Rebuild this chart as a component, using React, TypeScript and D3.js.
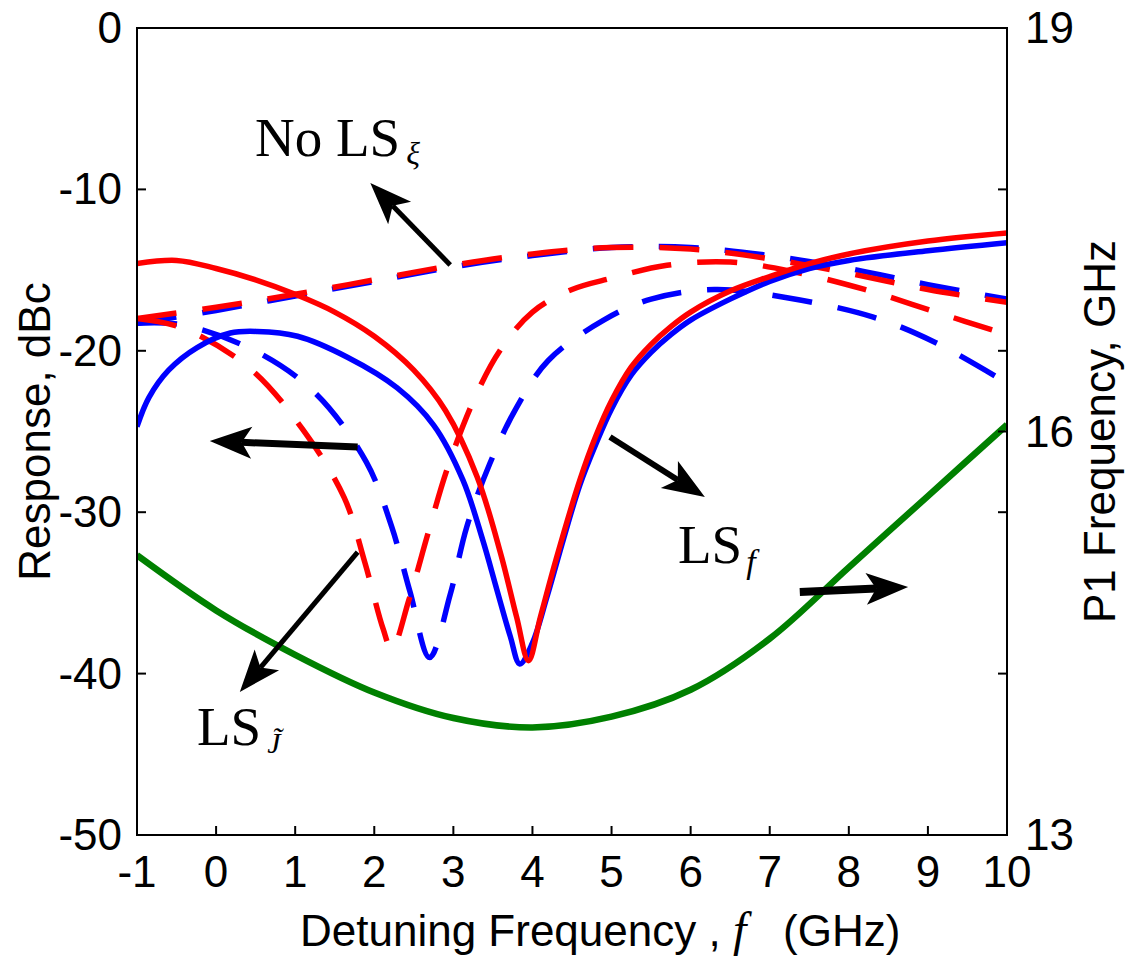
import React, { useEffect, useRef } from 'react';
import * as d3 from 'd3';

// Detuning frequency (GHz) and response (dBc)
const noLsFreq = [-1, 0, 1, 2, 3, 4, 5, 6, 7, 8, 9, 10];
const noLsRed = [-18.0, -17.3, -16.5, -15.6, -14.7, -14.0, -13.6, -13.7, -14.3, -15.2, -16.2, -17.0];
const noLsBlue = [-18.3, -17.5, -16.6, -15.7, -14.8, -14.1, -13.6, -13.6, -14.1, -14.9, -15.9, -16.8];

const lsJRedFreq = [-1, -0.42, 0.43, 1.1, 1.62, 1.88, 2.11, 2.22, 2.44, 2.68, 2.93, 3.3, 3.6, 4.0, 4.5, 5.0, 5.7, 6.5, 7.3, 8.2, 9.1, 10];
const lsJRed = [-18.0, -18.6, -21.1, -24.9, -29.1, -33.1, -37.2, -38.5, -35.4, -31.3, -27.2, -22.6, -19.9, -17.6, -16.2, -15.5, -14.7, -14.5, -15.1, -16.2, -17.6, -19.0];

const lsJBlueFreq = [-1, -0.42, 0.49, 1.25, 1.9, 2.22, 2.45, 2.7, 2.96, 3.17, 3.46, 3.8, 4.2, 4.9, 5.5, 6.3, 7.2, 8.3, 9.1, 10];
const lsJBlue = [-18.3, -18.4, -20.0, -22.6, -26.9, -30.9, -34.9, -39.0, -35.1, -30.9, -27.0, -23.5, -20.6, -18.1, -16.8, -16.2, -16.7, -17.9, -19.5, -22.0];

const lsFRedFreq = [-1, -0.5, 0, 0.5, 1, 1.5, 2, 2.5, 2.9, 3.3, 3.6, 3.8, 3.95, 4.1, 4.3, 4.6, 4.8, 5, 5.25, 5.5, 5.75, 6, 6.5, 7, 7.5, 8, 9, 10];
const lsFRed = [-14.6, -14.4, -14.9, -15.6, -16.5, -17.6, -19.1, -21.2, -23.7, -27.8, -32.6, -36.5, -39.2, -36.5, -32.9, -28.0, -25.3, -23.1, -21.0, -19.6, -18.5, -17.6, -16.3, -15.4, -14.6, -14.0, -13.2, -12.7];

const lsFBlueFreq = [-1, -0.85, -0.6, -0.24, 0.18, 0.52, 1.03, 1.66, 2.29, 2.75, 3.12, 3.37, 3.55, 3.72, 3.84, 4.0, 4.18, 4.39, 4.6, 4.8, 5, 5.25, 5.5, 5.75, 6, 6.5, 7, 7.5, 8, 9, 10];
const lsFBlue = [-24.7, -22.9, -21.2, -19.8, -18.9, -18.8, -19.1, -20.4, -22.3, -24.6, -28.0, -31.7, -34.8, -37.7, -39.4, -38.1, -35.3, -31.7, -28.3, -25.8, -23.6, -21.5, -20.1, -19.0, -18.1, -16.8, -15.7, -14.9, -14.4, -13.8, -13.3];

// P1 frequency (GHz), right axis
const p1Freq = [-1, 0, 1, 2, 3, 4, 5, 6, 7, 8, 9, 10];
const p1Values = [15.08, 14.67, 14.34, 14.06, 13.87, 13.8, 13.88, 14.08, 14.46, 14.99, 15.52, 16.05];

const xTicks = [-1, 0, 1, 2, 3, 4, 5, 6, 7, 8, 9, 10];
const yTicks = [0, -10, -20, -30, -40, -50];
const y2Ticks = [19, 16, 13];

// annotation arrows [fromF, fromR, tipF, tipR, width]
const arrows = [
  [2.96, -14.68, 1.95, -9.6, 5],
  [1.79, -25.96, -0.08, -25.59, 7],
  [4.98, -25.34, 6.18, -29.06, 6],
  [1.79, -32.47, 0.3, -41.14, 5],
  [7.38, -34.94, 8.75, -34.63, 8],
];

const W = 1128;
const H = 960;
const margin = { top: 28, right: 121, bottom: 125, left: 137 };

export default function App() {
  const ref = useRef<SVGSVGElement>(null);

  useEffect(() => {
    const svg = d3.select(ref.current);
    svg.selectAll('*').remove();

    const x = d3.scaleLinear().domain([-1, 10]).range([margin.left, W - margin.right]);
    const y = d3.scaleLinear().domain([-50, 0]).range([H - margin.bottom, margin.top]);
    const y2 = d3.scaleLinear().domain([13, 19]).range([H - margin.bottom, margin.top]);

    svg.append('defs').append('clipPath').attr('id', 'plot-clip')
      .append('rect')
      .attr('x', margin.left).attr('y', margin.top)
      .attr('width', W - margin.left - margin.right)
      .attr('height', H - margin.top - margin.bottom);

    const plot = svg.append('g').attr('clip-path', 'url(#plot-clip)');

    const line = (fs: number[], vs: number[], ys: any) =>
      d3.line<number>()
        .x((_, i) => x(fs[i]))
        .y((v) => ys(v))
        .curve(d3.curveCatmullRom.alpha(0.5))(vs);

    const series = [
      { f: noLsFreq, v: noLsBlue, c: '#0000ff', dash: true },
      { f: noLsFreq, v: noLsRed, c: '#ff0000', dash: true },
      { f: lsJBlueFreq, v: lsJBlue, c: '#0000ff', dash: true },
      { f: lsJRedFreq, v: lsJRed, c: '#ff0000', dash: true },
      { f: lsFBlueFreq, v: lsFBlue, c: '#0000ff', dash: false },
      { f: lsFRedFreq, v: lsFRed, c: '#ff0000', dash: false },
    ];

    series.forEach((s) => {
      plot.append('path')
        .attr('d', line(s.f, s.v, y))
        .attr('fill', 'none')
        .attr('stroke', s.c)
        .attr('stroke-width', 5.5)
        .attr('stroke-dasharray', s.dash ? '40 26' : null);
    });

    plot.append('path')
      .attr('d', line(p1Freq, p1Values, y2))
      .attr('fill', 'none')
      .attr('stroke', '#008000')
      .attr('stroke-width', 6.5);

    // box
    svg.append('rect')
      .attr('x', margin.left).attr('y', margin.top)
      .attr('width', W - margin.left - margin.right)
      .attr('height', H - margin.top - margin.bottom)
      .attr('fill', 'none').attr('stroke', '#000').attr('stroke-width', 2);

    const ticks = svg.append('g').attr('stroke', '#000').attr('stroke-width', 2);
    xTicks.forEach((t) => {
      ticks.append('line').attr('x1', x(t)).attr('x2', x(t))
        .attr('y1', H - margin.bottom).attr('y2', H - margin.bottom - 9);
    });
    yTicks.forEach((t) => {
      ticks.append('line').attr('x1', margin.left).attr('x2', margin.left + 9)
        .attr('y1', y(t)).attr('y2', y(t));
      ticks.append('line').attr('x1', W - margin.right).attr('x2', W - margin.right - 9)
        .attr('y1', y(t)).attr('y2', y(t));
    });
    y2Ticks.forEach((t) => {
      ticks.append('line').attr('x1', W - margin.right).attr('x2', W - margin.right - 9)
        .attr('y1', y2(t)).attr('y2', y2(t));
    });

    const font = 'Liberation Sans, Arial, sans-serif';
    const labels = svg.append('g').attr('font-family', font).attr('font-size', 44).attr('fill', '#000');
    xTicks.forEach((t) => {
      labels.append('text').attr('x', x(t)).attr('y', 887)
        .attr('text-anchor', 'middle').text(t);
    });
    yTicks.forEach((t) => {
      labels.append('text').attr('x', margin.left - 15).attr('y', y(t) + 15)
        .attr('text-anchor', 'end').text(t);
    });
    y2Ticks.forEach((t) => {
      labels.append('text').attr('x', W - margin.right + 18).attr('y', y2(t) + 15)
        .attr('text-anchor', 'start').text(t);
    });

    labels.append('text')
      .attr('transform', `translate(50, ${(margin.top + H - margin.bottom) / 2}) rotate(-90)`)
      .attr('text-anchor', 'middle')
      .text('Response, dBc');

    labels.append('text')
      .attr('transform', `translate(1115, ${(margin.top + H - margin.bottom) / 2}) rotate(-90)`)
      .attr('text-anchor', 'middle')
      .text('P1 Frequency, GHz');

    const xl = labels.append('text').attr('y', 946);
    xl.append('tspan').attr('x', 300).text('Detuning Frequency ,');
    xl.append('tspan').attr('x', 733).attr('font-family', 'Liberation Serif, serif')
      .attr('font-style', 'italic').attr('font-size', 48).text('f');
    xl.append('tspan').attr('x', 783).text('(GHz)');

    // arrows
    const ag = svg.append('g').attr('fill', '#000').attr('stroke', '#000');
    arrows.forEach(([f0, r0, f1, r1, w]) => {
      const x0 = x(f0), y0 = y(r0), x1 = x(f1), y1 = y(r1);
      const ang = Math.atan2(y1 - y0, x1 - x0);
      const len = 42, half = 16, notch = 32;
      const ux = Math.cos(ang), uy = Math.sin(ang);
      const px = -uy, py = ux;
      const bx = x1 - ux * len, by = y1 - uy * len;
      const nx = x1 - ux * notch, ny = y1 - uy * notch;
      ag.append('line').attr('x1', x0).attr('y1', y0).attr('x2', nx).attr('y2', ny)
        .attr('stroke-width', w);
      ag.append('path')
        .attr('stroke', 'none')
        .attr('d', `M${x1},${y1}L${bx + px * half},${by + py * half}L${nx},${ny}L${bx - px * half},${by - py * half}Z`);
    });

    // annotation text
    const serif = 'Liberation Serif, Times New Roman, serif';
    const t1 = svg.append('text').attr('x', 255).attr('y', 156)
      .attr('font-family', serif).attr('font-size', 55);
    t1.append('tspan').text('No LS');
    t1.append('tspan').attr('font-size', 32).attr('font-style', 'italic').attr('dx', 6).attr('dy', 8).text('ξ');

    const t2 = svg.append('text').attr('x', 678).attr('y', 563)
      .attr('font-family', serif).attr('font-size', 55);
    t2.append('tspan').text('LS');
    t2.append('tspan').attr('font-size', 34).attr('font-style', 'italic').attr('dx', 4).attr('dy', 10).text('f');

    const t3 = svg.append('text').attr('x', 197).attr('y', 745)
      .attr('font-family', serif).attr('font-size', 55);
    t3.append('tspan').text('LS');
    t3.append('tspan').attr('font-size', 30).attr('font-style', 'italic').attr('dx', 6).attr('dy', 8).text('J\u0303');
  }, []);

  return (
    <svg ref={ref} width={W} height={H} style={{ position: 'absolute', left: 0, top: 0, background: '#fff' }} />
  );
}
